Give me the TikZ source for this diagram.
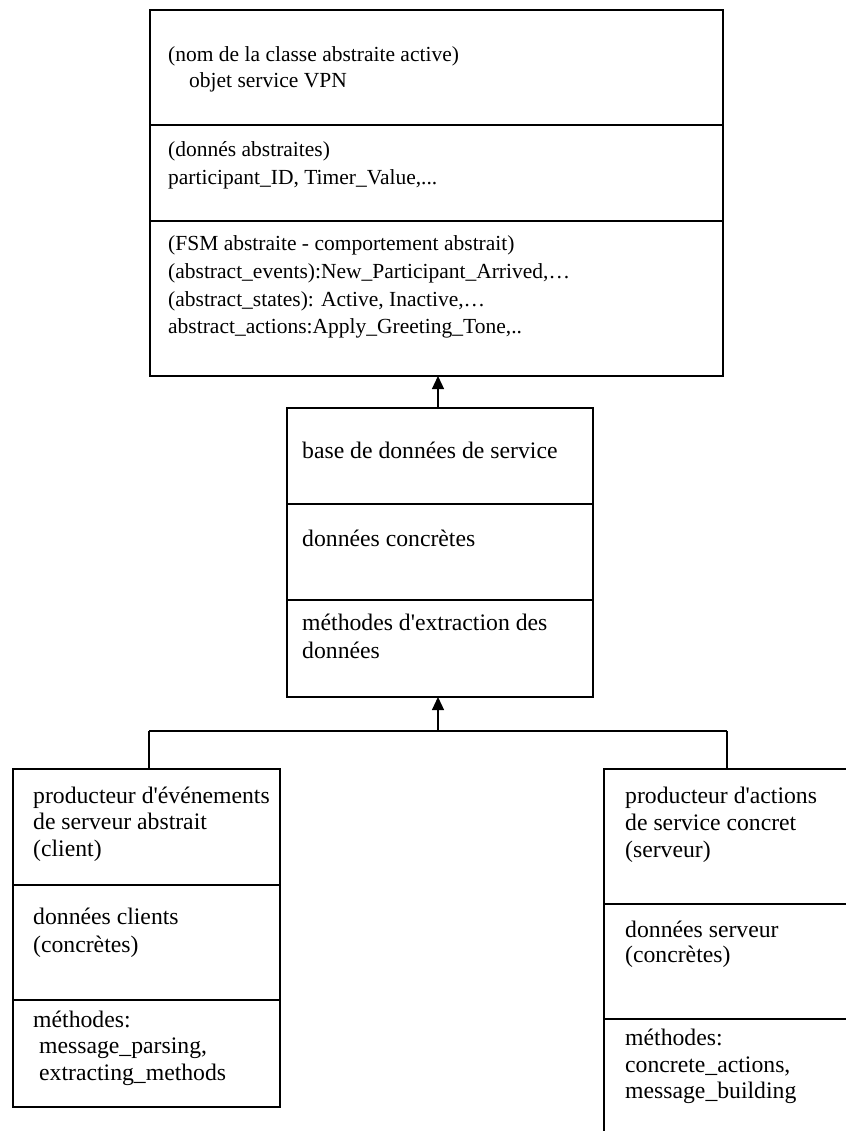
\documentclass[tikz,border=0pt]{standalone}
\usepackage{fontspec}
\setmainfont{Liberation Serif}
\usetikzlibrary{arrows.meta}
\newcommand{\q}{\textquotesingle}
\begin{document}
\begin{tikzpicture}[x=1pt,y=-1pt,
  box/.style={draw, line width=1.2pt, rectangle, inner sep=0pt, outer sep=0pt, anchor=north west},
  sep/.style={line width=1.2pt},
  txt/.style={anchor=base west, inner sep=0pt, font=\fontsize{23.7}{27.3}\selectfont},
  txs/.style={anchor=base west, inner sep=0pt, font=\fontsize{21.5}{27.3}\selectfont},
  inh/.style={line width=1.2pt, -{Triangle[width=12pt,length=13pt]}},
  wire/.style={line width=1.2pt}]
\useasboundingbox (0,0) rectangle (845,1131);

% top box
\node[box, minimum width=573pt, minimum height=366pt] (top) at (150,10) {};
\draw[sep] (150,125) -- (723,125);
\draw[sep] (150,221) -- (723,221);
\node[txs] (t1) at (168,62) {(nom de la classe abstraite active)};
\node[txs] (t2) at (189,88) {objet service VPN};
\node[txs] (t3) at (168,157) {(donnés abstraites)};
\node[txs] (t4) at (168,185) {participant\_ID, Timer\_Value,...};
\node[txs] (t5) at (168,251) {(FSM abstraite - comportement abstrait)};
\node[txs] (t6) at (168,279) {(abstract\_events):New\_Participant\_Arrived,…};
\node[txs] (t7) at (168,306) {(abstract\_states): Active, Inactive,…};
\node[txs] (t8) at (168,333) {abstract\_actions:Apply\_Greeting\_Tone,..};

% middle box
\node[box, minimum width=306pt, minimum height=289pt] (mid) at (287,408) {};
\draw[sep] (287,504) -- (593,504);
\draw[sep] (287,600) -- (593,600);
\node[txt] (m1) at (302,458) {base de données de service};
\node[txt] (m2) at (302,546) {données concrètes};
\node[txt] (m3) at (302,630) {méthodes d\q extraction des};
\node[txt] (m4) at (302,658) {données};

% left box
\node[box, minimum width=267pt, minimum height=338pt] (left) at (13,769) {};
\draw[sep] (13,885) -- (280,885);
\draw[sep] (13,1000) -- (280,1000);
\node[txt] (l1) at (33,803) {producteur d\q événements};
\node[txt] (l2) at (33,829) {de serveur abstrait};
\node[txt] (l3) at (33,856) {(client)};
\node[txt] (l4) at (33,924) {données clients};
\node[txt] (l5) at (33,952) {(concrètes)};
\node[txt] (l6) at (33,1027) {méthodes:};
\node[txt] (l7) at (39,1053) {message\_parsing,};
\node[txt] (l8) at (39,1080) {extracting\_methods};

% right box (runs off the page)
\node[box, minimum width=280pt, minimum height=420pt] (right) at (604,769) {};
\draw[sep] (604,904) -- (884,904);
\draw[sep] (604,1019) -- (884,1019);
\node[txt] (r1) at (625,803) {producteur d\q actions};
\node[txt] (r2) at (625,830) {de service concret};
\node[txt] (r3) at (625,857) {(serveur)};
\node[txt] (r4) at (625,937) {données serveur};
\node[txt] (r5) at (625,962) {(concrètes)};
\node[txt] (r6) at (625,1045) {méthodes:};
\node[txt] (r7) at (625,1072) {concrete\_actions,};
\node[txt] (r8) at (625,1098) {message\_building};

% connectors
\coordinate (a1) at (438,408);
\coordinate (a1t) at (438,376);
\draw[inh] (a1) -- (a1t);
\coordinate (bus) at (438,731);
\coordinate (midb) at (438,697);
\draw[inh] (bus) -- (midb);
\coordinate (bl) at (149,731);
\coordinate (br) at (727,731);
\draw[wire] (bl) -- (br);
\draw[wire] (bl) -- (bl |- left.north);
\draw[wire] (br) -- (br |- right.north);
\end{tikzpicture}
\end{document}
